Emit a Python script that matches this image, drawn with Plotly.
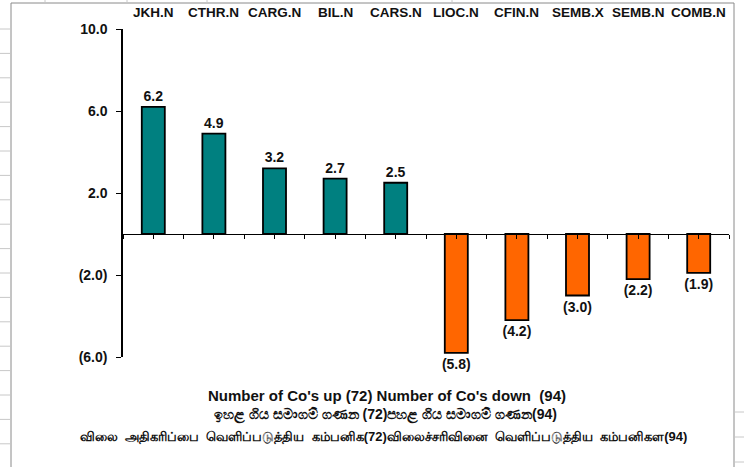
import plotly.graph_objects as go

categories = ["JKH.N", "CTHR.N", "CARG.N", "BIL.N", "CARS.N",
              "LIOC.N", "CFIN.N", "SEMB.X", "SEMB.N", "COMB.N"]
values = [6.2, 4.9, 3.2, 2.7, 2.5, -5.8, -4.2, -3.0, -2.2, -1.9]
y_tickvals = [10, 6, 2, -2, -6]
y_ticktext = ["10.0", "6.0", "2.0", "(2.0)", "(6.0)"]
footer_lines = [
    "<b>Number of Co's up (72) Number of Co's down  (94)</b>",
    "<b>ඉහළ ගිය සමාගම් ගණන (72)පහළ ගිය සමාගම් ගණන(94)</b>",
    "<b>விலை  அதிகரிப்பை  வெளிப்படுத்திய  கம்பனிக(72)விலைச்சரிவினை  வெளிப்படுத்திய  கம்பனிகள(94)</b>",
]

UP = "#008080"
DOWN = "#FF6600"
FONT = "Liberation Sans, Arial, sans-serif"

xs = list(range(len(categories)))
labels = [f"<b>{v:.1f}</b>" if v >= 0 else f"<b>({abs(v):.1f})</b>" for v in values]
colors = [UP if v >= 0 else DOWN for v in values]

fig = go.Figure()
fig.add_trace(go.Bar(
    x=xs, y=values, width=0.38,
    marker=dict(color=colors, line=dict(color="#000000", width=1.8)),
    text=labels, textposition="outside", cliponaxis=False, constraintext="none",
    textfont=dict(family=FONT, size=14, color="#111111"),
    showlegend=False, hoverinfo="skip",
))

W, H = 744, 467
L, T = 123, 29
plot_right, plot_bottom = 729, 357
R = W - plot_right
B = H - plot_bottom
pw, ph = plot_right - L, plot_bottom - T

def px2x(px):
    return (px - L) / pw

def py2y(py):
    return (plot_bottom - py) / ph

annotations = []
for i, c in enumerate(categories):
    annotations.append(dict(x=i, xref="x", y=py2y(12.5), yref="paper", text=f"<b>{c}</b>",
                            showarrow=False, font=dict(family=FONT, size=13.5, color="#111111"),
                            yanchor="middle", xanchor="center"))
footer_y = [395, 415, 437]
footer_x = [386.5, 385, 383.5]
footer_size = [15, 14, 13]
for line, px, py, fs in zip(footer_lines, footer_x, footer_y, footer_size):
    annotations.append(dict(x=px2x(px), xref="paper", y=py2y(py), yref="paper", text=line,
                            showarrow=False, font=dict(family=FONT, size=fs, color="#111111"),
                            yanchor="middle", xanchor="center"))

gray = dict(color="#8a8a8a", width=1)
shapes = [
    dict(type="line", xref="paper", yref="paper", x0=px2x(11), x1=px2x(11), y0=py2y(3), y1=py2y(467), line=gray),
    dict(type="line", xref="paper", yref="paper", x0=px2x(11), x1=px2x(734), y0=py2y(3), y1=py2y(3), line=gray),
    dict(type="line", xref="paper", yref="paper", x0=px2x(734), x1=px2x(734), y0=py2y(3), y1=py2y(467), line=gray),
]
stub = dict(color="#c8c8c8", width=1)
for k in range(18):
    py = 29 + 24.4 * k
    if py > 466:
        break
    shapes.append(dict(type="line", xref="paper", yref="paper", x0=px2x(0), x1=px2x(10),
                       y0=py2y(py), y1=py2y(py), line=stub))
for py in [412, 437, 462]:
    shapes.append(dict(type="line", xref="paper", yref="paper", x0=px2x(735), x1=px2x(744),
                       y0=py2y(py), y1=py2y(py), line=stub))
for px in [45, 127, 207, 452]:
    shapes.append(dict(type="line", xref="paper", yref="paper", x0=px2x(px), x1=px2x(px),
                       y0=py2y(0), y1=py2y(2.5), line=stub))

fig.update_layout(
    width=W, height=H,
    margin=dict(l=L, r=R, t=T, b=B),
    paper_bgcolor="white", plot_bgcolor="white",
    font=dict(family=FONT, size=12, color="#111111"),
    xaxis=dict(
        range=[-0.5, len(categories) - 0.5],
        anchor="free", position=6 / 16,
        tick0=-0.5, dtick=0.5, ticks="outside", ticklen=4, tickcolor="#000000",
        showticklabels=False, showgrid=False, zeroline=False,
        showline=True, linecolor="#000000", linewidth=1,
    ),
    yaxis=dict(
        range=[-6, 10],
        tickvals=y_tickvals, ticktext=[f"<b>{t}</b>" for t in y_ticktext],
        ticks="outside", ticklen=5, tickcolor="#000000",
        ticklabelstandoff=6,
        tickfont=dict(family=FONT, size=14, color="#111111"),
        showgrid=False, zeroline=False,
        showline=True, linecolor="#000000", linewidth=1.5,
    ),
    annotations=annotations,
    shapes=shapes,
)

fig.write_html("out.html", config={"displayModeBar": False},
               post_script="document.body.style.margin='0';document.body.style.overflow='hidden';")
